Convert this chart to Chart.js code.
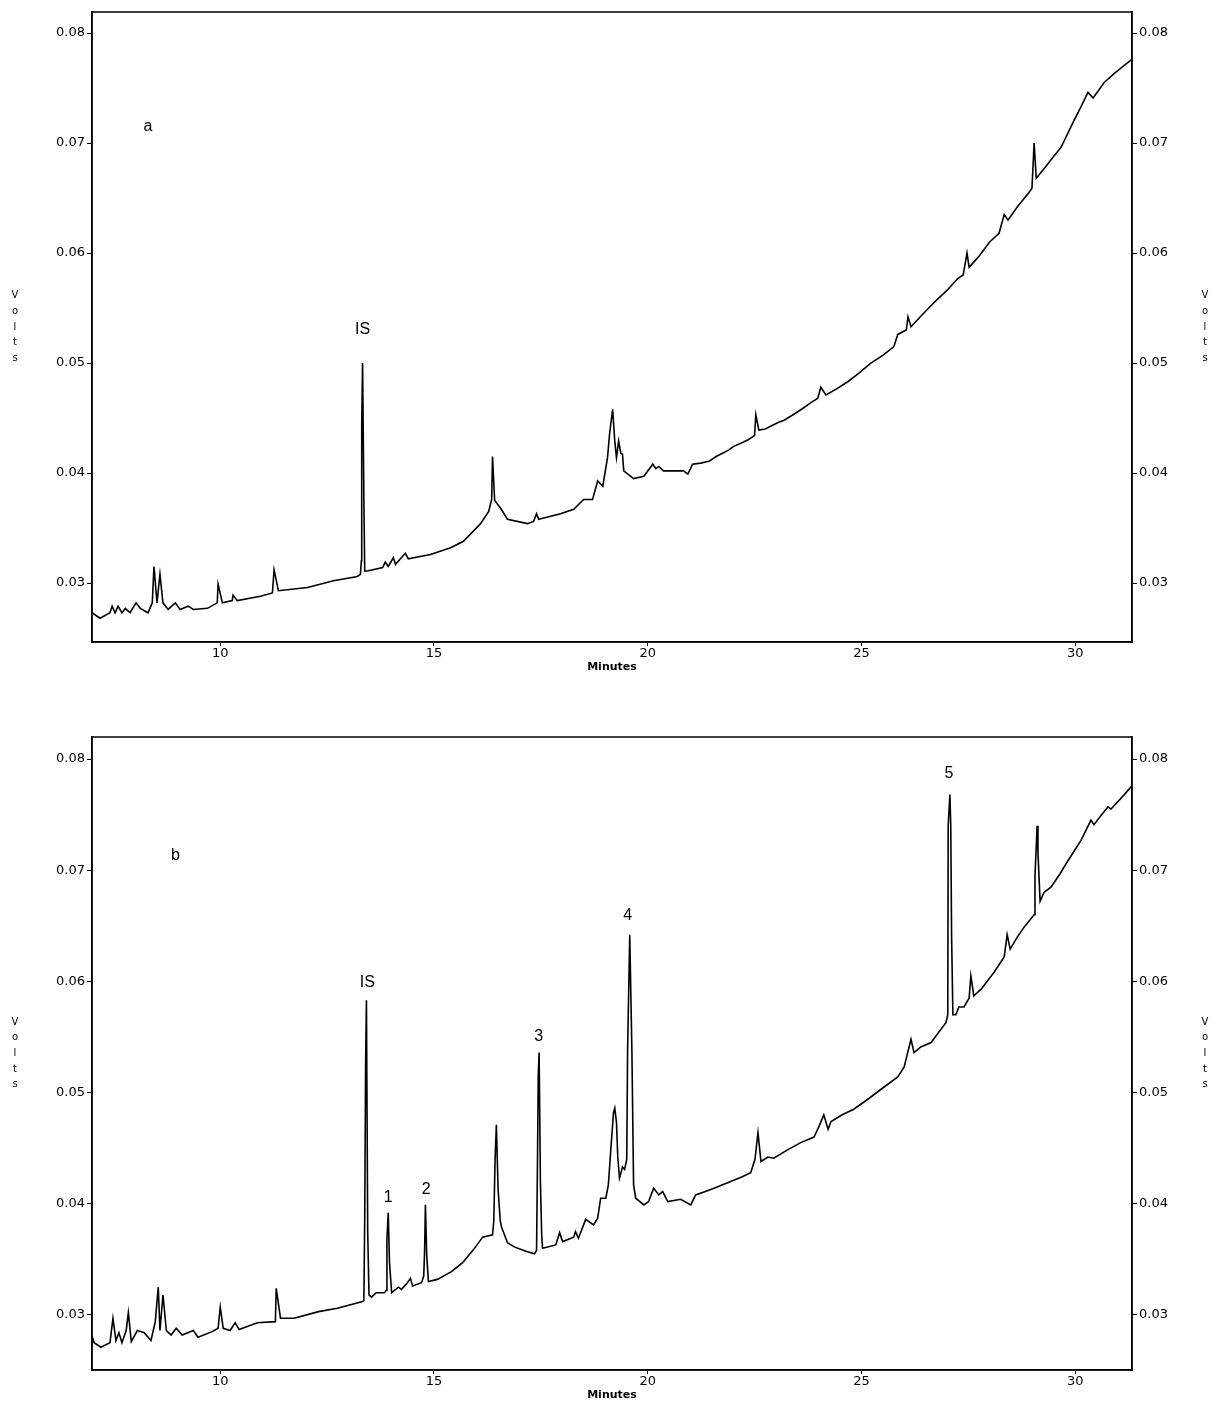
<!DOCTYPE html>
<html lang="en">
<head>
<meta charset="UTF-8">
<title>Chromatograms a and b</title>
<script src="https://cdn.jsdelivr.net/npm/chart.js"></script>
<style>
  body { margin: 0; background: #fff; width: 1216px; height: 1402px; position: relative; overflow: hidden; }
  canvas { position: absolute; left: 0; }
  #chartA { top: 0; }
  #chartB { top: 725px; }
</style>
</head>
<body>
<canvas id="chartA" width="1216" height="680"></canvas>
<canvas id="chartB" width="1216" height="677"></canvas>
<script>
// axis ranges and ticks
const xRange = [7.0, 31.33];
const xTicks = [10, 15, 20, 25, 30];
const yTicks = [0.03, 0.04, 0.05, 0.06, 0.07, 0.08];
const yRangeA = [0.02464, 0.08191];
const yRangeB = [0.02505, 0.08198];

// trace a: [minutes, volts]
const traceA = [
  [7.00,0.0273],[7.19,0.0268],[7.42,0.0273],[7.47,0.0279],[7.54,0.0273],[7.61,0.0279],[7.70,0.0273],
  [7.78,0.0277],[7.89,0.0273],[8.03,0.0282],[8.13,0.0277],[8.31,0.0273],[8.41,0.0282],[8.45,0.0315],
  [8.52,0.0282],[8.59,0.0308],[8.66,0.0282],[8.78,0.0276],[8.95,0.0282],[9.06,0.0276],[9.25,0.0279],
  [9.37,0.0276],[9.70,0.0277],[9.93,0.0282],[9.95,0.0299],[10.05,0.0282],[10.28,0.0284],[10.30,0.0289],
  [10.40,0.0284],[10.94,0.0288],[11.22,0.0291],[11.26,0.0312],[11.36,0.0293],[12.04,0.0296],[12.65,0.0302],
  [13.21,0.0306],[13.28,0.0308],[13.30,0.0320],[13.31,0.0445],[13.33,0.0500],[13.36,0.0378],[13.38,0.0311],
  [13.44,0.0311],[13.80,0.0314],[13.86,0.0319],[13.93,0.0315],[14.05,0.0323],[14.10,0.0317],[14.33,0.0327],
  [14.40,0.0322],[14.92,0.0326],[15.39,0.0332],[15.69,0.0338],[16.09,0.0354],[16.28,0.0365],[16.35,0.0376],
  [16.37,0.0415],[16.42,0.0375],[16.56,0.0368],[16.72,0.0358],[17.19,0.0354],[17.33,0.0356],[17.40,0.0363],
  [17.45,0.0358],[17.96,0.0363],[18.27,0.0367],[18.50,0.0376],[18.71,0.0376],[18.83,0.0393],[18.95,0.0388],
  [19.06,0.0414],[19.11,0.0436],[19.18,0.0458],[19.23,0.0429],[19.27,0.0414],[19.32,0.0429],[19.37,0.0418],
  [19.41,0.0417],[19.44,0.0402],[19.67,0.0395],[19.91,0.0397],[20.12,0.0408],[20.19,0.0404],[20.26,0.0406],
  [20.37,0.0402],[20.84,0.0402],[20.94,0.0399],[21.05,0.0408],[21.24,0.0409],[21.45,0.0411],[21.60,0.0415],
  [21.75,0.0418],[21.90,0.0421],[22.00,0.0424],[22.18,0.0427],[22.34,0.0430],[22.50,0.0434],[22.53,0.0453],
  [22.60,0.0439],[22.75,0.0440],[22.90,0.0443],[23.05,0.0446],[23.19,0.0448],[23.40,0.0453],[23.60,0.0458],
  [23.82,0.0464],[23.98,0.0468],[24.05,0.0478],[24.17,0.0471],[24.40,0.0476],[24.68,0.0483],[24.95,0.0491],
  [25.22,0.0500],[25.50,0.0507],[25.76,0.0515],[25.85,0.0526],[26.05,0.0530],[26.09,0.0542],[26.16,0.0533],
  [26.40,0.0543],[26.70,0.0555],[27.00,0.0566],[27.26,0.0577],[27.38,0.0580],[27.47,0.0600],[27.52,0.0587],
  [27.75,0.0597],[28.00,0.0610],[28.22,0.0618],[28.34,0.0635],[28.43,0.0630],[28.65,0.0642],[28.92,0.0655],
  [28.99,0.0659],[29.04,0.0700],[29.09,0.0668],[29.30,0.0678],[29.50,0.0688],[29.67,0.0696],[29.98,0.0721],
  [30.15,0.0734],[30.30,0.0746],[30.42,0.0741],[30.68,0.0755],[30.91,0.0763],[31.26,0.0774],[31.33,0.0776]
];

// trace b: [minutes, volts]
const traceB = [
  [7.00,0.0281],[7.05,0.0275],[7.21,0.0271],[7.42,0.0275],[7.49,0.0297],[7.56,0.0277],[7.63,0.0284],
  [7.70,0.0275],[7.80,0.0286],[7.85,0.0302],[7.92,0.0276],[8.06,0.0286],[8.22,0.0284],[8.38,0.0277],
  [8.48,0.0294],[8.55,0.0325],[8.59,0.0286],[8.66,0.0318],[8.74,0.0286],[8.85,0.0282],[8.97,0.0288],
  [9.11,0.0282],[9.37,0.0286],[9.48,0.0280],[9.81,0.0285],[9.95,0.0288],[10.00,0.0307],[10.07,0.0288],
  [10.23,0.0286],[10.35,0.0293],[10.44,0.0287],[10.87,0.0293],[11.29,0.0294],[11.31,0.0324],[11.41,0.0297],
  [11.73,0.0297],[12.30,0.0303],[12.74,0.0306],[13.33,0.0312],[13.36,0.0313],[13.38,0.0386],[13.40,0.0521],
  [13.42,0.0583],[13.45,0.0375],[13.48,0.0318],[13.54,0.0316],[13.65,0.0320],[13.84,0.0320],[13.88,0.0322],
  [13.90,0.0369],[13.93,0.0392],[13.96,0.0347],[14.01,0.0320],[14.17,0.0325],[14.24,0.0323],[14.38,0.0329],
  [14.45,0.0333],[14.50,0.0326],[14.71,0.0329],[14.76,0.0335],[14.78,0.0356],[14.80,0.0399],[14.83,0.0354],
  [14.87,0.0330],[15.08,0.0332],[15.41,0.0339],[15.67,0.0347],[15.93,0.0359],[16.14,0.0370],[16.37,0.0372],
  [16.40,0.0385],[16.43,0.0440],[16.46,0.0471],[16.50,0.0413],[16.55,0.0385],[16.58,0.0379],[16.72,0.0365],
  [16.89,0.0361],[17.17,0.0357],[17.35,0.0355],[17.40,0.0358],[17.42,0.0431],[17.44,0.0516],[17.46,0.0536],
  [17.49,0.0420],[17.52,0.0372],[17.54,0.0360],[17.85,0.0363],[17.94,0.0374],[18.01,0.0366],[18.27,0.0370],
  [18.31,0.0375],[18.38,0.0369],[18.55,0.0386],[18.73,0.0381],[18.83,0.0387],[18.90,0.0405],[19.02,0.0405],
  [19.08,0.0417],[19.13,0.0445],[19.20,0.0482],[19.23,0.0486],[19.27,0.0473],[19.30,0.0442],[19.34,0.0423],
  [19.41,0.0433],[19.46,0.0431],[19.51,0.0440],[19.53,0.0539],[19.58,0.0642],[19.63,0.0539],[19.67,0.0417],
  [19.72,0.0405],[19.91,0.0399],[20.02,0.0402],[20.14,0.0414],[20.26,0.0408],[20.35,0.0411],[20.47,0.0402],
  [20.77,0.0404],[21.01,0.0399],[21.12,0.0408],[21.35,0.0411],[21.55,0.0414],[21.94,0.0420],[22.20,0.0424],
  [22.41,0.0428],[22.51,0.0440],[22.58,0.0464],[22.65,0.0438],[22.81,0.0442],[22.95,0.0441],[23.25,0.0448],
  [23.58,0.0455],[23.89,0.0460],[24.00,0.0469],[24.12,0.0480],[24.22,0.0467],[24.29,0.0474],[24.55,0.0480],
  [24.82,0.0485],[25.15,0.0494],[25.46,0.0503],[25.85,0.0514],[26.00,0.0523],[26.16,0.0548],[26.23,0.0536],
  [26.39,0.0541],[26.63,0.0545],[26.98,0.0563],[27.02,0.0570],[27.03,0.0740],[27.07,0.0768],[27.09,0.0740],
  [27.11,0.0640],[27.14,0.0570],[27.21,0.0570],[27.28,0.0577],[27.40,0.0577],[27.52,0.0585],[27.56,0.0605],
  [27.63,0.0587],[27.80,0.0593],[28.10,0.0608],[28.34,0.0622],[28.41,0.0642],[28.48,0.0629],[28.65,0.0640],
  [28.81,0.0649],[29.04,0.0660],[29.06,0.0694],[29.11,0.0740],[29.13,0.0716],[29.18,0.0672],[29.27,0.0680],
  [29.44,0.0685],[29.65,0.0697],[29.84,0.0709],[30.14,0.0727],[30.37,0.0745],[30.44,0.0741],[30.60,0.0749],
  [30.77,0.0757],[30.84,0.0755],[31.15,0.0768],[31.33,0.0776]
];

// peak labels, in data coordinates
const labelsA = [
  { text: 'a', x: 8.31, y: 0.0715 },
  { text: 'IS', x: 13.33, y: 0.0530 }
];
const labelsB = [
  { text: 'b', x: 8.95, y: 0.0713 },
  { text: 'IS', x: 13.44, y: 0.0599 },
  { text: '1', x: 13.93, y: 0.0406 },
  { text: '2', x: 14.82, y: 0.0413 },
  { text: '3', x: 17.45, y: 0.0550 },
  { text: '4', x: 19.53, y: 0.0659 },
  { text: '5', x: 27.05, y: 0.0787 }
];

const tickFont = { family: '"DejaVu Sans", sans-serif', size: 13 };

// frame, stacked "Volts" titles and peak labels
const extras = {
  id: 'extras',
  afterDraw(chart, args, opts) {
    const { ctx, chartArea: ca, scales } = chart;
    ctx.save();
    ctx.strokeStyle = '#000';
    ctx.lineWidth = 1.5;
    ctx.strokeRect(ca.left, ca.top, ca.width, ca.height);

    ctx.fillStyle = '#000';
    ctx.textAlign = 'center';
    ctx.textBaseline = 'middle';
    ctx.font = '10px "DejaVu Sans"';
    const mid = (ca.top + ca.bottom) / 2;
    'Volts'.split('').forEach((ch, i) => {
      const y = mid + (i - 2) * 15.7;
      ctx.fillText(ch, 15, y);
      ctx.fillText(ch, 1205, y);
    });

    ctx.font = '16px "Liberation Sans"';
    opts.labels.forEach(l => {
      ctx.fillText(l.text, scales.x.getPixelForValue(l.x), scales.y.getPixelForValue(l.y));
    });
    ctx.restore();
  }
};

function yAxis(pos, range, width) {
  return {
    type: 'linear',
    position: pos,
    min: range[0],
    max: range[1],
    afterBuildTicks: s => { s.ticks = yTicks.map(v => ({ value: v })); },
    afterFit: s => { s.width = width; },
    grid: { drawOnChartArea: false, drawTicks: true, tickLength: 5, color: '#000' },
    border: { display: true, color: '#000', width: 1.5 },
    ticks: { color: '#000', font: tickFont, padding: 2, callback: v => v.toFixed(2) }
  };
}

function makeConfig(trace, labels, yRange, xAxisH, titlePad) {
  return {
    type: 'line',
    data: {
      datasets: [{
        data: trace.map(p => ({ x: p[0], y: p[1] })),
        borderColor: '#000',
        borderWidth: 1.6,
        pointRadius: 0,
        tension: 0,
        fill: false
      }]
    },
    options: {
      responsive: false,
      animation: false,
      events: [],
      layout: { padding: { top: 12, left: 0, right: 0, bottom: 0 } },
      plugins: {
        legend: { display: false },
        tooltip: { enabled: false },
        extras: { labels: labels }
      },
      scales: {
        x: {
          type: 'linear',
          min: xRange[0],
          max: xRange[1],
          afterBuildTicks: s => { s.ticks = xTicks.map(v => ({ value: v })); },
          afterFit: s => { s.height = xAxisH; },
          grid: { drawOnChartArea: false, drawTicks: true, tickLength: 4, color: '#000' },
          border: { display: true, color: '#000', width: 1.5 },
          ticks: { color: '#000', font: tickFont, padding: 0, maxRotation: 0 },
          title: {
            display: true,
            text: 'Minutes',
            color: '#000',
            font: { family: '"DejaVu Sans", sans-serif', size: 11, weight: 'bold' },
            padding: { top: 0, bottom: titlePad }
          }
        },
        y: yAxis('left', yRange, 92),
        y2: yAxis('right', yRange, 84)
      }
    },
    plugins: [extras]
  };
}

new Chart(document.getElementById('chartA'), makeConfig(traceA, labelsA, yRangeA, 38, 6));
new Chart(document.getElementById('chartB'), makeConfig(traceB, labelsB, yRangeB, 32, 0));
</script>
</body>
</html>
